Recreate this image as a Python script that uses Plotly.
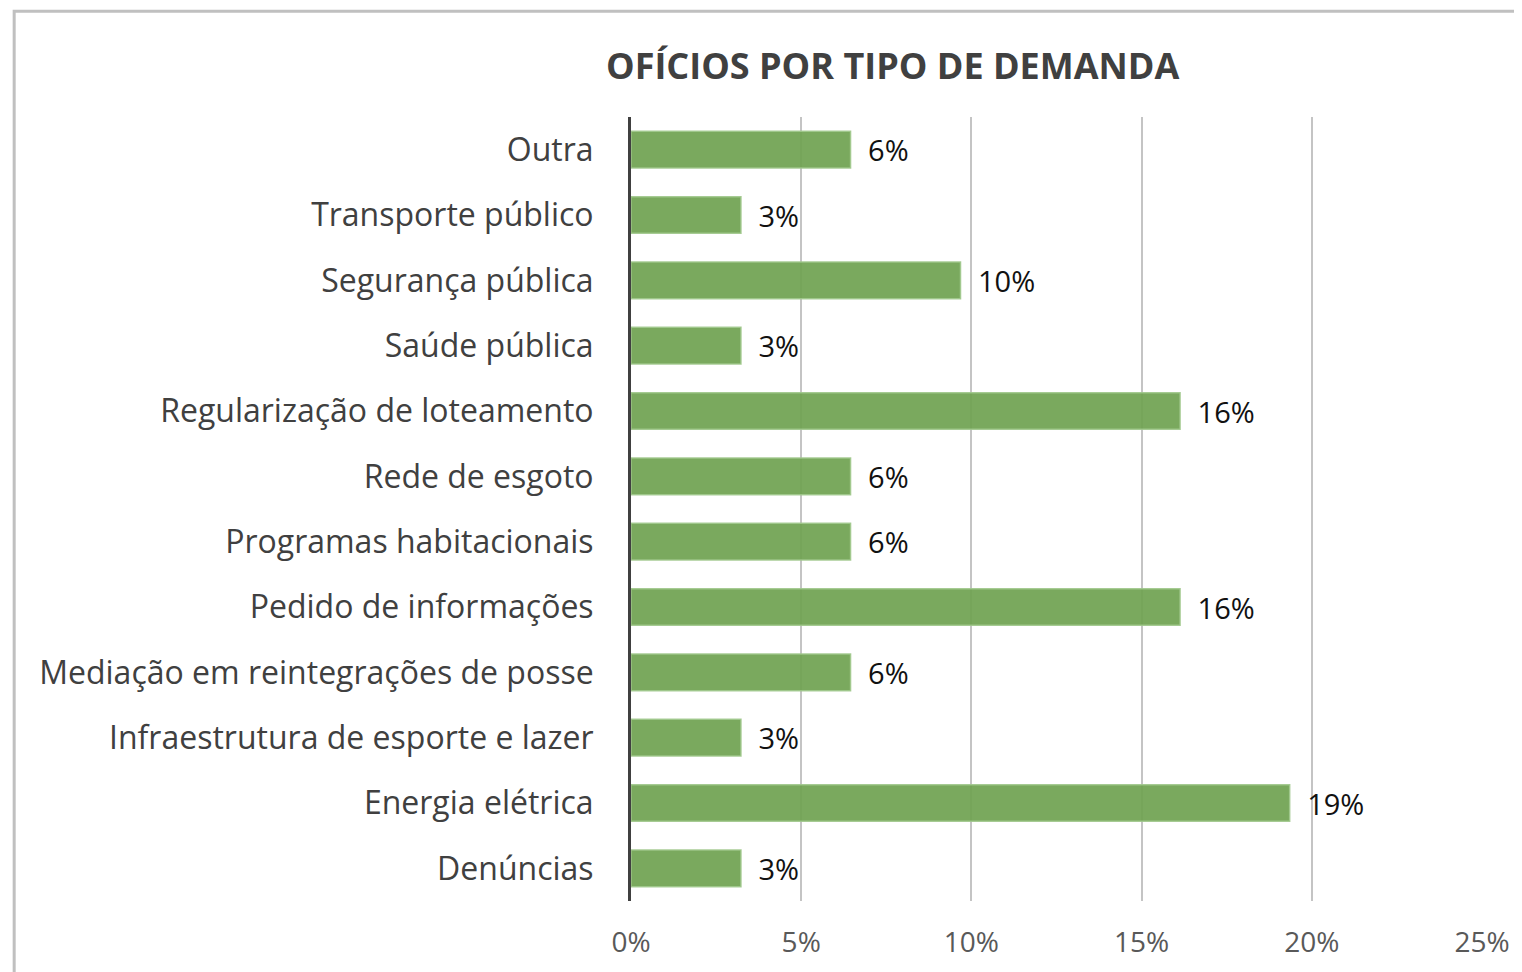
import plotly.graph_objects as go

categories = [
    "Denúncias",
    "Energia elétrica",
    "Infraestrutura de esporte e lazer",
    "Mediação em reintegrações de posse",
    "Pedido de informações",
    "Programas habitacionais",
    "Rede de esgoto",
    "Regularização de loteamento",
    "Saúde pública",
    "Segurança pública",
    "Transporte público",
    "Outra",
]
values = [0.0323, 0.1935, 0.0323, 0.0645, 0.1613, 0.0645, 0.0645, 0.1613, 0.0323, 0.0968, 0.0323, 0.0645]
x_ticks = [0, 0.05, 0.10, 0.15, 0.20, 0.25]
title_text = "OFÍCIOS POR TIPO DE DEMANDA"

# page body has an 8px margin, so work in shifted coordinates
OFF = 8
W, H = 1522 - OFF, 972 - OFF
L, R, T, B = 631 - OFF, 37, 117 - OFF, 70
pw, ph = W - L - R, H - T - B

def px_x(x):
    return (x - OFF - L) / pw

def px_y(y):
    return 1 - (y - OFF - T) / ph

FONT = "'Open Sans', sans-serif"

fig = go.Figure(go.Bar(
    y=categories,
    x=values,
    orientation="h",
    marker=dict(color="rgba(112,163,82,0.93)", line=dict(color="rgba(160,200,140,0.9)", width=1.5)),
    texttemplate="\u2002%{x:.0%}",
    textposition="outside",
    constraintext="none",
    textfont=dict(size=29, color="#111111", family=FONT),
    cliponaxis=False,
))

fig.update_layout(
    width=W, height=H,
    margin=dict(l=L, r=R, t=T, b=B),
    paper_bgcolor="white",
    plot_bgcolor="white",
    bargap=0.44,
    showlegend=False,
    font=dict(family=FONT),
    annotations=[dict(
        text="<b>" + title_text + "</b>",
        x=px_x(893), y=px_y(65), xref="paper", yref="paper",
        xanchor="center", yanchor="middle", showarrow=False,
        font=dict(size=36, color="#404040", family=FONT),
    )],
    shapes=[dict(
        type="path", xref="paper", yref="paper",
        path=f"M {px_x(12)} {px_y(980)} L {px_x(12)} {px_y(11)} L {px_x(1530)} {px_y(11)}",
        line=dict(color="#c0c0c0", width=3),
    )],
)

fig.update_xaxes(
    range=[0, 0.25],
    tickvals=x_ticks,
    tickformat=".0%",
    showgrid=True, gridcolor="#c4c4c4", gridwidth=2,
    zeroline=False, showline=False,
    tickfont=dict(size=28, color="#595959", family=FONT),
    ticks="", ticklabelstandoff=22,
)
fig.update_yaxes(
    categoryorder="array", categoryarray=categories,
    showgrid=False, zeroline=False,
    showline=True, linecolor="#404040", linewidth=3,
    tickfont=dict(size=32, color="#404040", family=FONT),
    ticks="", ticklabelstandoff=28,
)

fig.write_html("out.html")
